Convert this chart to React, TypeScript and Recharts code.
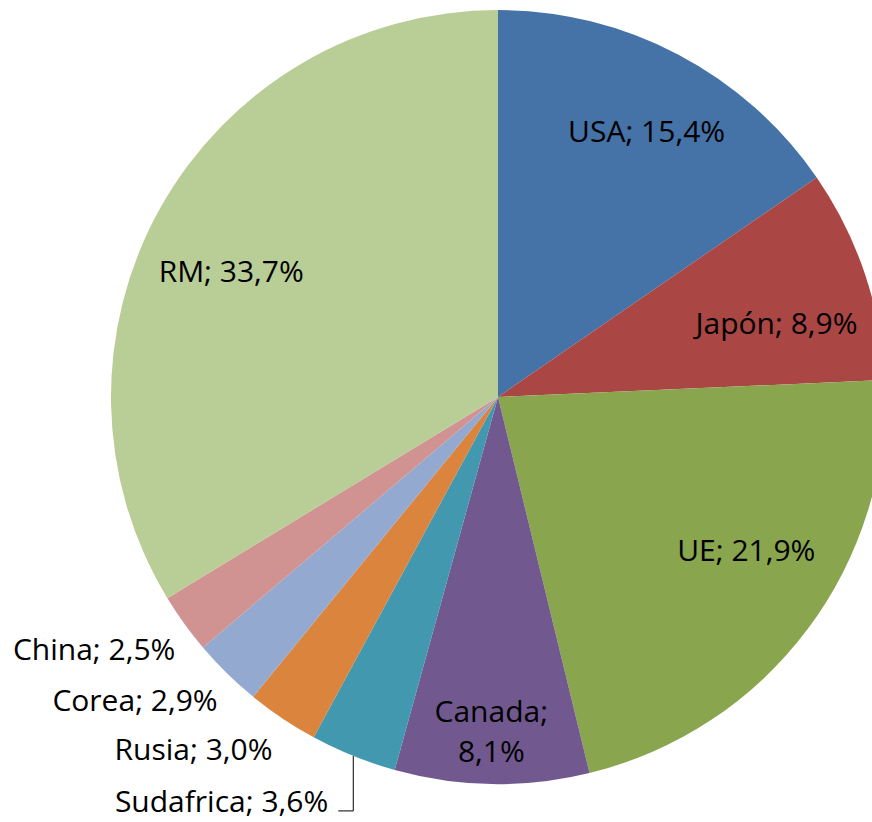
import { Cell, Pie, PieChart } from 'recharts';

const countries = ['USA', 'Japón', 'UE', 'Canada', 'Sudafrica', 'Rusia', 'Corea', 'China', 'RM'];
const shares = [15.4, 8.9, 21.9, 8.1, 3.6, 3.0, 2.9, 2.5, 33.7];
const colors = ['#4572A7', '#AA4643', '#89A54E', '#71588F', '#4198AF', '#DB843D', '#93A9CF', '#D19392', '#B9CD96'];

const data = countries.map((name, i) => ({ name, value: shares[i] }));

// how each label is laid out, with small nudges to follow Excel's best-fit placement
const labelLayout: Record<string, { mode: 'inside' | 'twoLine' | 'outside' | 'leader'; dx: number; dy: number }> = {
  USA: { mode: 'inside', dx: 10, dy: 9 },
  'Japón': { mode: 'inside', dx: -4, dy: 32 },
  UE: { mode: 'inside', dx: 10, dy: -15 },
  Canada: { mode: 'twoLine', dx: -2, dy: 27 },
  Sudafrica: { mode: 'leader', dx: 0, dy: 55 },
  Rusia: { mode: 'outside', dx: 3, dy: 22 },
  Corea: { mode: 'outside', dx: 7, dy: 21 },
  China: { mode: 'outside', dx: 10, dy: 23 },
  RM: { mode: 'inside', dx: -7, dy: 31 },
};

const RAD = Math.PI / 180;
const fmt = (v: number) => v.toFixed(1).replace('.', ',') + '%';

const renderLabel = (props: any) => {
  const { cx, cy, midAngle, outerRadius, value } = props;
  const name = props.payload?.name ?? props.name;
  const cfg = labelLayout[name];
  const cos = Math.cos(-midAngle * RAD);
  const sin = Math.sin(-midAngle * RAD);
  const textProps = { fontFamily: '"Open Sans", sans-serif', fontSize: 30, fill: '#000' };

  if (cfg.mode === 'inside' || cfg.mode === 'twoLine') {
    const r = outerRadius * 0.77;
    const x = cx + r * cos + cfg.dx;
    const y = cy + r * sin + cfg.dy;
    if (cfg.mode === 'twoLine') {
      return (
        <text x={x} y={y} textAnchor="middle" {...textProps}>
          <tspan x={x}>{name};</tspan>
          <tspan x={x} dy={40}>{fmt(value)}</tspan>
        </text>
      );
    }
    return (
      <text x={x} y={y} textAnchor="middle" {...textProps}>
        {`${name}; ${fmt(value)}`}
      </text>
    );
  }

  if (cfg.mode === 'leader') {
    const ex = cx + outerRadius * cos;
    const ey = cy + outerRadius * sin;
    const ly = ey + cfg.dy;
    return (
      <g>
        <polyline points={`${ex},${ey} ${ex},${ly} ${ex - 15},${ly}`} fill="none" stroke="#000" strokeWidth={1} />
        <text x={ex - 25} y={ly + 1} textAnchor="end" {...textProps}>
          {`${name}; ${fmt(value)}`}
        </text>
      </g>
    );
  }

  const r = outerRadius * 1.06;
  const x = cx + r * cos + cfg.dx;
  const y = cy + r * sin + cfg.dy;
  return (
    <text x={x} y={y} textAnchor="end" {...textProps}>
      {`${name}; ${fmt(value)}`}
    </text>
  );
};

export default function App() {
  return (
    <div style={{ position: 'absolute', left: 0, top: 0, width: 872, height: 822, background: '#fff' }}>
      <PieChart width={872} height={822} margin={{ top: 0, right: 0, bottom: 0, left: 0 }}>
        <Pie
          data={data}
          dataKey="value"
          nameKey="name"
          cx={498}
          cy={397}
          outerRadius={387}
          startAngle={90}
          endAngle={-270}
          stroke="none"
          label={renderLabel}
          labelLine={false}
          isAnimationActive={false}
        >
          {data.map((d, i) => (
            <Cell key={d.name} fill={colors[i]} />
          ))}
        </Pie>
      </PieChart>
    </div>
  );
}
